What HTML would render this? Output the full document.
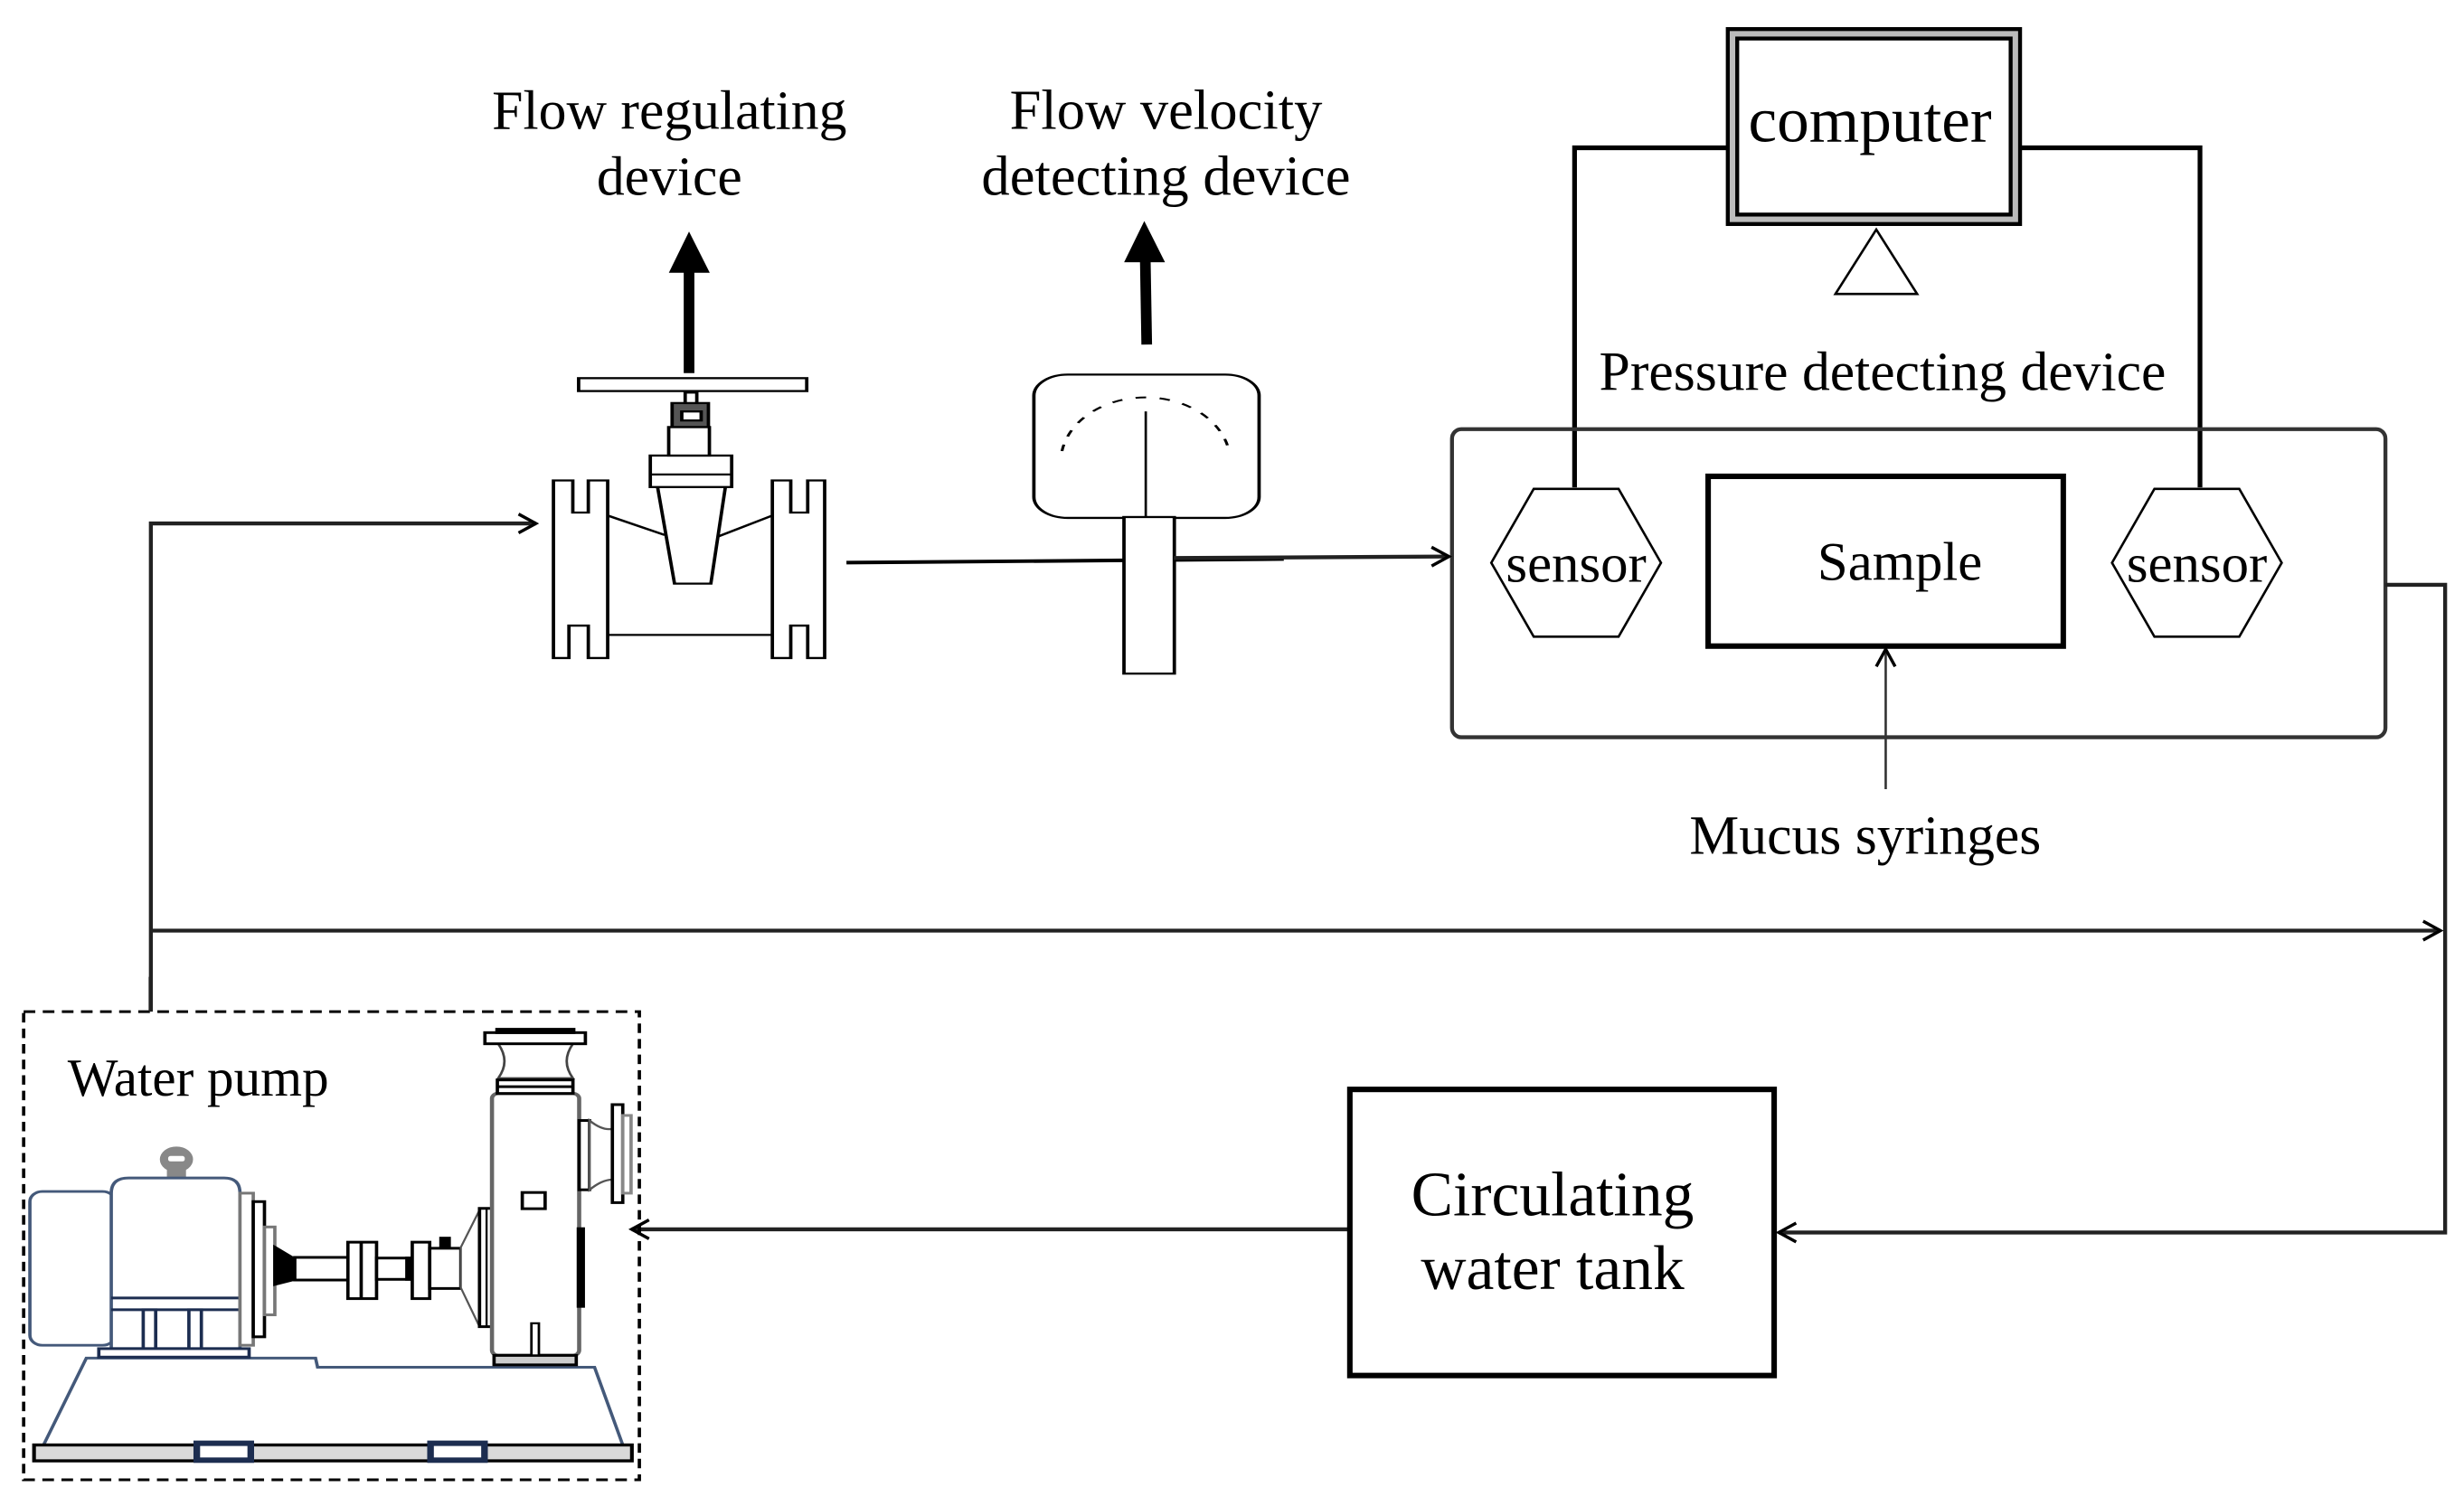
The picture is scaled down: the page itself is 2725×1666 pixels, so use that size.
<!DOCTYPE html>
<html><head><meta charset="utf-8"><style>
html,body{margin:0;padding:0;background:#fff;overflow:hidden;}
svg{display:block;}
text{font-family:"Liberation Serif",serif;fill:#000;}
</style></head><body>
<svg width="2725" height="1666" viewBox="0 0 1568 958" preserveAspectRatio="none" xmlns="http://www.w3.org/2000/svg">
<defs>
<marker id="oa" markerWidth="14" markerHeight="14" refX="12" refY="7" orient="auto" markerUnits="userSpaceOnUse">
<path d="M1,1 L12,7 L1,13" fill="none" stroke="#000" stroke-width="2"/>
</marker>
</defs>
<rect width="1568" height="958" fill="#fff"/>

<!-- labels -->
<text x="426" y="82" font-size="35.5" text-anchor="middle">Flow regulating</text>
<text x="426" y="124" font-size="35.5" text-anchor="middle">device</text>
<text x="742" y="82" font-size="36" text-anchor="middle">Flow velocity</text>
<text x="742" y="124" font-size="36" text-anchor="middle">detecting device</text>
<text x="1198" y="248" font-size="35.5" text-anchor="middle">Pressure detecting device</text>
<text x="1187" y="543" font-size="35.5" text-anchor="middle">Mucus syringes</text>

<!-- computer -->
<rect x="1099.5" y="18.5" width="186" height="124" fill="#bbb" stroke="#000" stroke-width="2.5"/>
<rect x="1105.5" y="24.5" width="174" height="112" fill="#fff" stroke="#000" stroke-width="2.5"/>
<text x="1190" y="90" font-size="41" text-anchor="middle">computer</text>
<polygon points="1194,146 1220,187 1168,187" fill="#fff" stroke="#000" stroke-width="1.5"/>
<polyline points="1099,94 1002,94 1002,310" fill="none" stroke="#000" stroke-width="3"/>
<polyline points="1286,94 1400,94 1400,310" fill="none" stroke="#000" stroke-width="3"/>

<!-- pressure box -->
<rect x="924" y="273" width="594" height="196" rx="6" fill="none" stroke="#333" stroke-width="2.5"/>
<polygon points="976,311 1030,311 1057,358 1030,405 976,405 949,358" fill="#fff" stroke="#000" stroke-width="1.5"/>
<text x="1003" y="370" font-size="35" text-anchor="middle">sensor</text>
<polygon points="1371,311 1425,311 1452,358 1425,405 1371,405 1344,358" fill="#fff" stroke="#000" stroke-width="1.5"/>
<text x="1398" y="370" font-size="35" text-anchor="middle">sensor</text>
<rect x="1087" y="303" width="226" height="108" fill="#fff" stroke="#000" stroke-width="3.5"/>
<text x="1209" y="369" font-size="35" text-anchor="middle">Sample</text>
<line x1="1200" y1="502" x2="1200" y2="413" stroke="#333" stroke-width="1.5" marker-end="url(#oa)"/>

<!-- connectors -->
<polyline points="1518,372 1556,372 1556,784 1132,784" fill="none" stroke="#222" stroke-width="2.5" marker-end="url(#oa)"/>
<line x1="96" y1="592" x2="1553" y2="592" stroke="#222" stroke-width="2.5" marker-end="url(#oa)"/>
<polyline points="96,643 96,333 341,333" fill="none" stroke="#222" stroke-width="2.5" marker-end="url(#oa)"/>
<line x1="858" y1="782" x2="402" y2="782" stroke="#222" stroke-width="2.5" marker-end="url(#oa)"/>

<!-- tank -->
<rect x="859" y="693" width="270" height="182" fill="#fff" stroke="#000" stroke-width="3.5"/>
<text x="988" y="773" font-size="40" text-anchor="middle">Circulating</text>
<text x="988" y="820" font-size="40" text-anchor="middle">water tank</text>

<!-- valve & gauge (zoom coords) -->
<g transform="translate(333.7,138.1) scale(0.3082,0.1908)" stroke="#000" stroke-width="7" fill="#fff">
<polygon points="60,878 100,878 100,985 132,985 132,878 172,878 172,1470 132,1470 132,1362 92,1362 92,1470 60,1470"/>
<polygon points="512,878 550,878 550,985 585,985 585,878 620,878 620,1470 585,1470 585,1362 550,1362 550,1470 512,1470"/>
<line x1="172" y1="1393" x2="512" y2="1393"/>
<line x1="172" y1="995" x2="290" y2="1060"/>
<line x1="512" y1="995" x2="400" y2="1065"/>
<polygon points="275,900 415,900 385,1222 310,1222"/>
<rect x="260" y="795" width="168" height="105"/>
<line x1="260" y1="858" x2="428" y2="858"/>
<rect x="298" y="700" width="84" height="95"/>
<rect x="305" y="620" width="75" height="80" fill="#555"/>
<rect x="325" y="648" width="40" height="30"/>
<rect x="332" y="585" width="24" height="35"/>
<rect x="112" y="537" width="471" height="43"/>
<line x1="340" y1="520" x2="340" y2="175" stroke-width="22"/>
<polygon points="303,182 378,182 340,60" fill="#000"/>
<line x1="665" y1="1152" x2="1568" y2="1140" stroke-width="12"/>
<rect x="1052" y="525" width="465" height="478" rx="70"/>
<path d="M1110,780 A175,215 0 0 1 1455,780" fill="none" stroke-dasharray="22,28" stroke-width="6"/>
<line x1="1283" y1="648" x2="1283" y2="1000" stroke-width="5"/>
<rect x="1238" y="1000" width="104" height="522"/>
<line x1="1285" y1="425" x2="1282" y2="140" stroke-width="22"/>
<polygon points="1243,147 1318,147 1280,25" fill="#000"/>
</g>
<line x1="747" y1="355" x2="922" y2="354" stroke="#222" stroke-width="2.5" marker-end="url(#oa)"/>

<!-- pump (zoom coords) -->
<text x="43" y="697" font-size="34">Water pump</text>
<g transform="translate(0,621.4) scale(0.2642,0.2150)" stroke-width="8" fill="#fff">
<rect x="57" y="103" width="1483" height="1385" fill="none" stroke="#000" stroke-width="8" stroke-dasharray="28,18"/>
<line x1="363" y1="0" x2="363" y2="103" stroke="#222" stroke-width="10"/>
<polygon points="105,1385 208,1128 760,1128 765,1155 1432,1155 1500,1385" stroke="#44597a"/>
<rect x="82" y="1385" width="1440" height="47" fill="#d9d9d9" stroke="#000" stroke-width="9"/>
<rect x="474" y="1380" width="130" height="50" fill="#fff" stroke="#1c2d50" stroke-width="16"/>
<rect x="1037" y="1380" width="130" height="50" fill="#fff" stroke="#1c2d50" stroke-width="16"/>
<rect x="72" y="635" width="205" height="455" rx="30" stroke="#44597a"/>
<ellipse cx="425" cy="540" rx="40" ry="38" fill="#888" stroke="none"/>
<rect x="405" y="530" width="40" height="16" rx="6" fill="#fff" stroke="none"/>
<rect x="402" y="560" width="46" height="45" fill="#888" stroke="none"/>
<path d="M268,1100 L268,640 Q268,595 310,595 L540,595 Q578,595 578,640 L578,1100 Z" stroke="#44597a"/>
<line x1="268" y1="950" x2="578" y2="950" stroke="#1c2d50"/>
<line x1="268" y1="985" x2="578" y2="985" stroke="#1c2d50"/>
<rect x="345" y="985" width="30" height="115" stroke="#1c2d50"/>
<rect x="455" y="985" width="30" height="115" stroke="#1c2d50"/>
<rect x="238" y="1100" width="362" height="25" stroke="#1c2d50"/>
<rect x="578" y="640" width="32" height="450" stroke="#777"/>
<rect x="610" y="665" width="27" height="400" stroke="#000"/>
<rect x="637" y="740" width="25" height="260" stroke="#777"/>
<polygon points="662,800 710,835 710,895 662,910" fill="#000" stroke="#000"/>
<rect x="710" y="830" width="130" height="67" stroke="#000"/>
<rect x="838" y="785" width="69" height="167" stroke="#000"/>
<line x1="870" y1="785" x2="870" y2="952" stroke="#000"/>
<rect x="907" y="832" width="80" height="63" stroke="#000"/>
<rect x="980" y="832" width="15" height="63" fill="#000" stroke="#000"/>
<rect x="993" y="785" width="42" height="167" stroke="#000"/>
<rect x="1062" y="773" width="20" height="30" fill="#000" stroke="#000"/>
<rect x="1035" y="803" width="75" height="119" stroke="#000"/>
<polygon points="1110,800 1155,690 1155,1035 1110,920" stroke="#555" stroke-width="5"/>
<rect x="1155" y="685" width="35" height="350" stroke="#000"/>
<line x1="1172" y1="685" x2="1172" y2="1035" stroke="#000" stroke-width="5"/>
<rect x="1185" y="345" width="210" height="775" rx="15" stroke="#666" stroke-width="10"/>
<rect x="1190" y="1120" width="198" height="28" fill="#ccc" stroke="#000"/>
<rect x="1280" y="1025" width="18" height="95" stroke="#000" stroke-width="6"/>
<rect x="1258" y="638" width="55" height="48" stroke="#000"/>
<rect x="1393" y="745" width="12" height="230" fill="#000" stroke="#000"/>
<path d="M1200,198 Q1230,250 1200,300 L1380,300 Q1350,250 1380,198 Z" stroke="#444" stroke-width="6"/>
<rect x="1198" y="305" width="182" height="40" stroke="#000"/>
<line x1="1198" y1="325" x2="1380" y2="325" stroke="#000"/>
<rect x="1168" y="165" width="242" height="33" stroke="#000"/>
<rect x="1197" y="155" width="185" height="10" fill="#000" stroke="#000"/>
<rect x="1395" y="425" width="25" height="205" stroke="#000"/>
<path d="M1420,425 Q1450,455 1475,450 L1475,600 Q1450,600 1420,630 Z" stroke="#555" stroke-width="6"/>
<rect x="1475" y="378" width="25" height="290" stroke="#000"/>
<rect x="1500" y="410" width="20" height="230" stroke="#888"/>
</g>
</svg>
</body></html>
